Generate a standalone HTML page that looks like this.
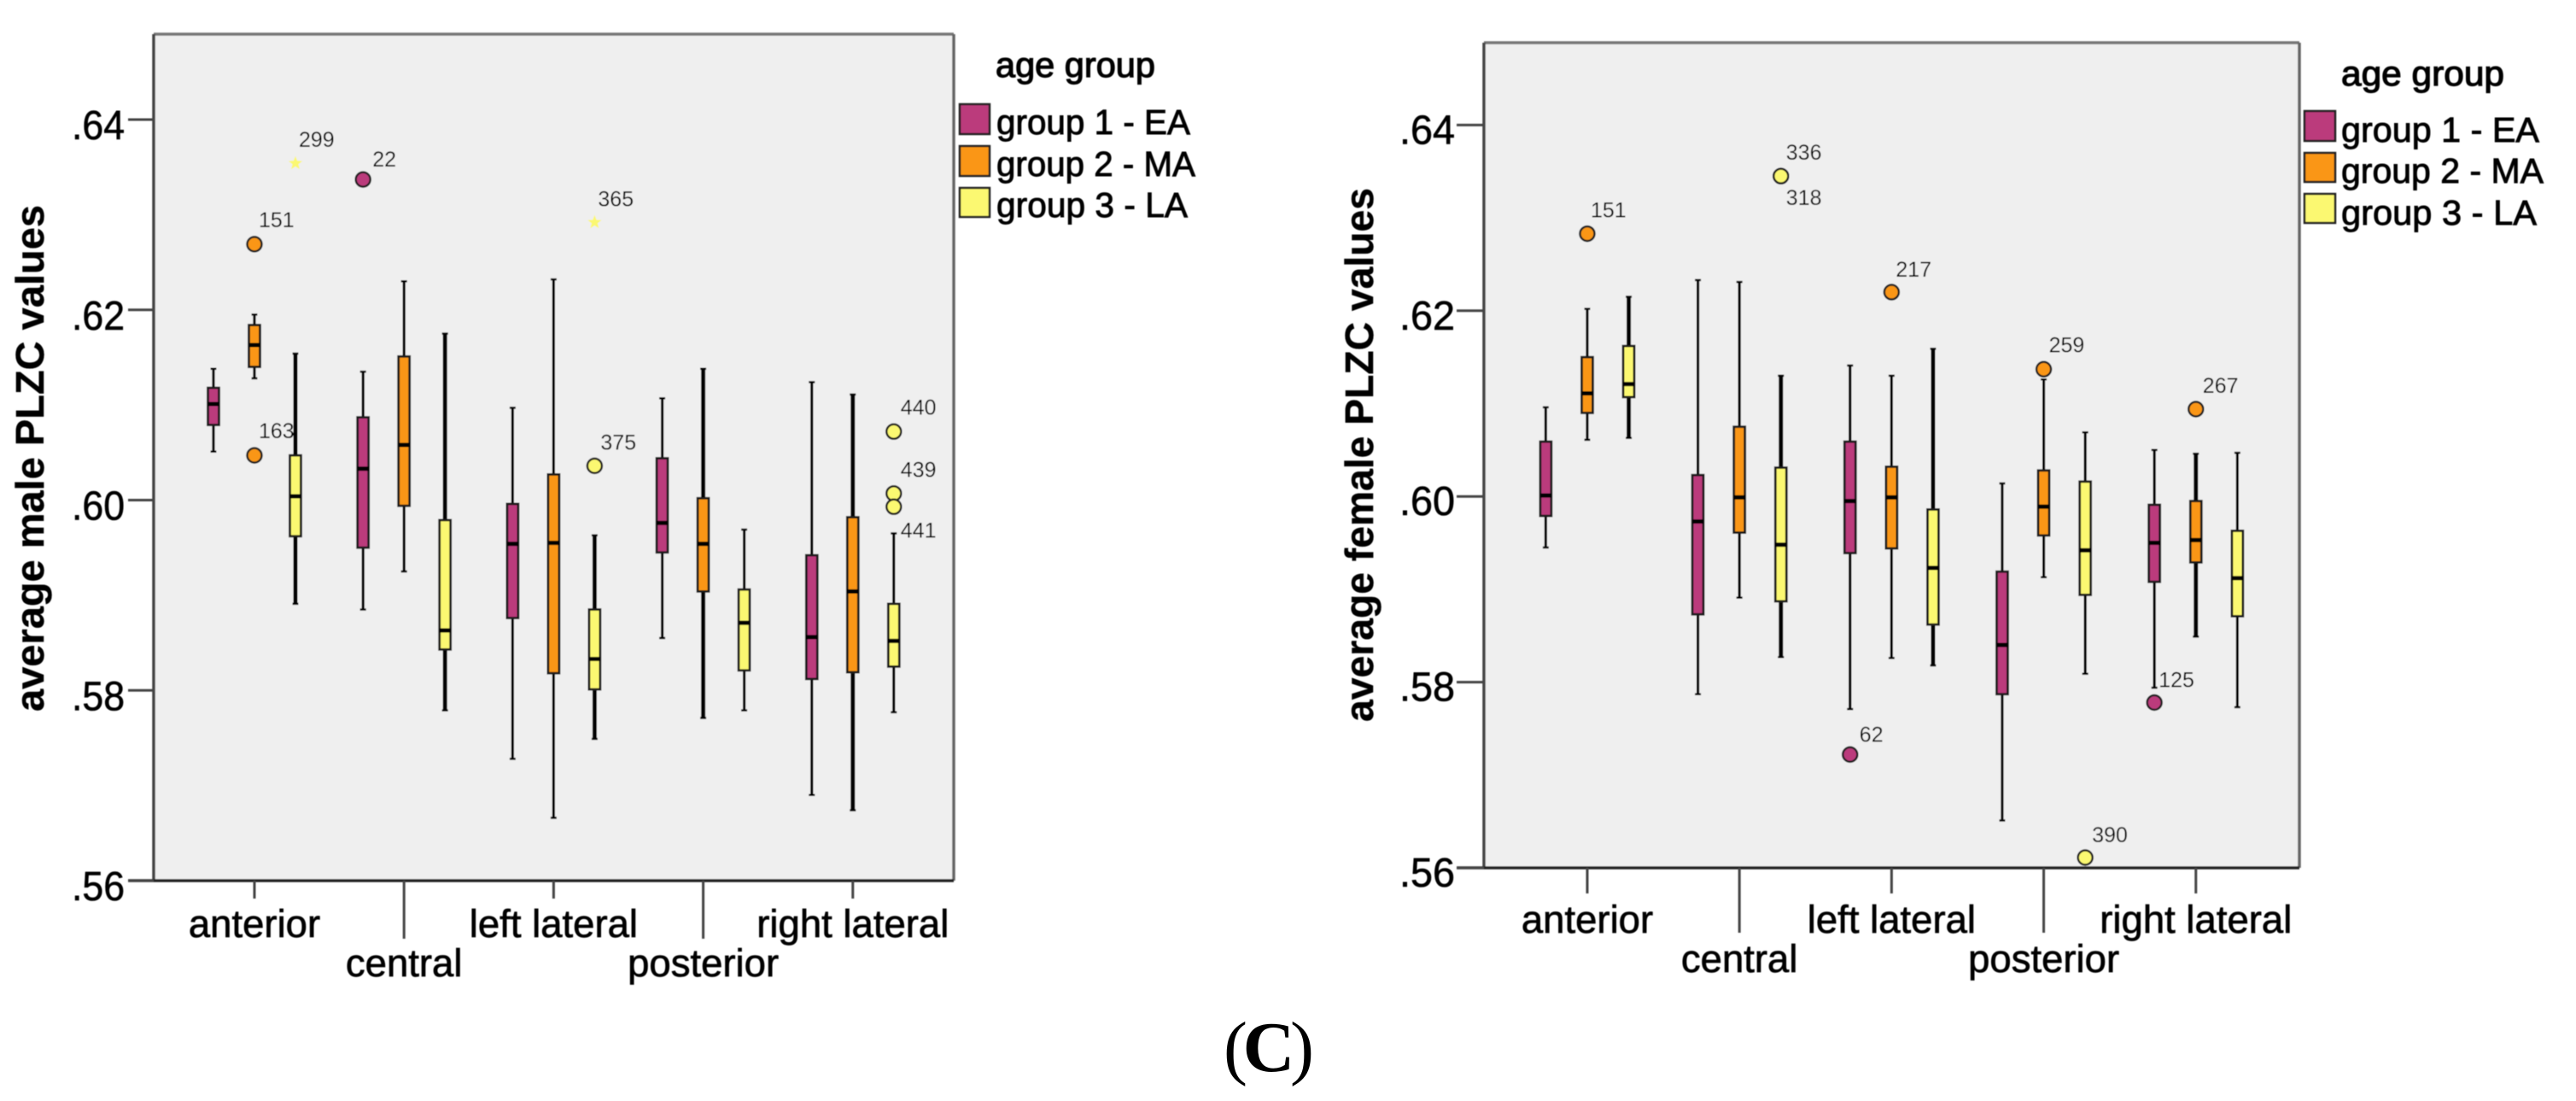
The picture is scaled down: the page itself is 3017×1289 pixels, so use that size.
<!DOCTYPE html>
<html lang="en">
<head>
<meta charset="utf-8">
<title>Average PLZC values by age group</title>
<style>
html,body{margin:0;padding:0;background:#fff;width:3017px;height:1289px;overflow:hidden}
svg{display:block}
text{font-family:"Liberation Sans",Arial,sans-serif;fill:#000}
</style>
</head>
<body>
<svg id="figure" xmlns="http://www.w3.org/2000/svg" width="3017" height="1289" viewBox="0 0 3017 1289">
  <defs>
    <filter id="soften" x="-2%" y="-2%" width="104%" height="104%"><feGaussianBlur stdDeviation="0.6"/></filter>
  </defs>
  <rect x="0" y="0" width="3017" height="1289" fill="#fff"/>
  <g id="male-panel" filter="url(#soften)"></g>
  <g id="female-panel" filter="url(#soften)"></g>

  <g filter="url(#soften)">
    <text x="1166" y="90" font-size="41" stroke="#000" stroke-width="1.2" textLength="187" lengthAdjust="spacingAndGlyphs">age group</text>
    <rect x="1124" y="122" width="35" height="35" fill="#bb3a7c" stroke="#222" stroke-width="2.5"/>
    <text x="1167" y="157" font-size="41" stroke="#000" stroke-width="0.9" textLength="227" lengthAdjust="spacingAndGlyphs">group 1 - EA</text>
    <rect x="1124" y="171" width="35" height="35" fill="#fa9618" stroke="#222" stroke-width="2.5"/>
    <text x="1167" y="206" font-size="41" stroke="#000" stroke-width="0.9" textLength="233" lengthAdjust="spacingAndGlyphs">group 2 - MA</text>
    <rect x="1124" y="220" width="35" height="34" fill="#fbf871" stroke="#222" stroke-width="2.5"/>
    <text x="1167" y="254" font-size="41" stroke="#000" stroke-width="0.9" textLength="224" lengthAdjust="spacingAndGlyphs">group 3 - LA</text>
  </g>

  <g filter="url(#soften)">
    <text x="2742" y="100" font-size="41" stroke="#000" stroke-width="1.2" textLength="191" lengthAdjust="spacingAndGlyphs">age group</text>
    <rect x="2699" y="130" width="36" height="35" fill="#bb3a7c" stroke="#222" stroke-width="2.5"/>
    <text x="2742" y="166" font-size="41" stroke="#000" stroke-width="0.9" textLength="232" lengthAdjust="spacingAndGlyphs">group 1 - EA</text>
    <rect x="2699" y="179" width="36" height="34" fill="#fa9618" stroke="#222" stroke-width="2.5"/>
    <text x="2742" y="214" font-size="41" stroke="#000" stroke-width="0.9" textLength="237" lengthAdjust="spacingAndGlyphs">group 2 - MA</text>
    <rect x="2699" y="227" width="36" height="34" fill="#fbf871" stroke="#222" stroke-width="2.5"/>
    <text x="2742" y="263" font-size="41" stroke="#000" stroke-width="0.9" textLength="229" lengthAdjust="spacingAndGlyphs">group 3 - LA</text>
  </g>

  <text x="1433" y="1254" font-size="84" textLength="106" lengthAdjust="spacing" style="font-family:'Liberation Serif',serif">(<tspan font-weight="bold">C</tspan>)</text>
</svg>

<script>
// Shared categories and tick labels
const categories = ['anterior', 'central', 'left lateral', 'posterior', 'right lateral'];
const groupNames = ['group-1-ea', 'group-2-ma', 'group-3-la'];
const yTicks = [0.56, 0.58, 0.60, 0.62, 0.64];
const yTickLabels = ['.56', '.58', '.60', '.62', '.64'];

// Male panel: five-number summaries, ordered by category then by age group
const maleWhiskerHigh = [.6138,.6195,.6154, .6135,.6230,.6175, .6097,.6232,.5963, .6107,.6138,.5969, .6124,.6111,.5965];
const maleQ3          = [.6118,.6184,.6047, .6087,.6151,.5979, .5996,.6027,.5885, .6044,.6002,.5906, .5942,.5982,.5891];
const maleMedian      = [.6101,.6163,.6004, .6033,.6058,.5863, .5954,.5955,.5833, .5976,.5954,.5871, .5856,.5904,.5852];
const maleQ1          = [.6079,.6140,.5962, .5950,.5994,.5843, .5876,.5818,.5801, .5945,.5904,.5821, .5812,.5819,.5825];
const maleWhiskerLow  = [.6051,.6128,.5891, .5885,.5925,.5779, .5728,.5666,.5749, .5855,.5771,.5779, .5690,.5674,.5777];

// Male panel outliers
const maleOutlierCategory = [0, 0, 0, 1, 2, 2, 4, 4, 4];
const maleOutlierGroup    = [1, 1, 2, 0, 2, 2, 2, 2, 2];
const maleOutlierValue    = [.6269, .6047, .6354, .6337, .6292, .6036, .6072, .6007, .5993];
const maleOutlierId       = ['151', '163', '299', '22', '365', '375', '440', '439', '441'];
const maleOutlierExtreme  = [false, false, true, false, true, false, false, false, false];

// Female panel: five-number summaries
const femaleWhiskerHigh = [.6096,.6202,.6215, .6233,.6231,.6130, .6141,.6130,.6159, .6014,.6126,.6069, .6050,.6046,.6047];
const femaleQ3          = [.6059,.6150,.6162, .6023,.6075,.6031, .6059,.6032,.5986, .5919,.6028,.6016, .5991,.5995,.5963];
const femaleMedian      = [.6001,.6111,.6121, .5973,.5999,.5948, .5995,.5999,.5923, .5840,.5989,.5942, .5950,.5953,.5912];
const femaleQ1          = [.5979,.6090,.6107, .5873,.5961,.5887, .5939,.5944,.5862, .5787,.5958,.5894, .5908,.5929,.5871];
const femaleWhiskerLow  = [.5945,.6061,.6063, .5787,.5891,.5827, .5771,.5826,.5818, .5651,.5913,.5809, .5794,.5849,.5773];

// Female panel outliers
const femaleOutlierCategory = [0, 1, 1, 2, 2, 3, 3, 4, 4];
const femaleOutlierGroup    = [1, 2, 2, 0, 1, 1, 2, 0, 1];
const femaleOutlierValue    = [.6283, .6345, .6345, .5722, .6220, .6137, .5611, .5778, .6094];
const femaleOutlierId       = ['151', '336', '318', '62', '217', '259', '390', '125', '267'];
const femaleOutlierExtreme  = [false, false, false, false, false, false, false, false, false];

const fills = ['#bb3a7c', '#fa9618', '#fbf871'];
const SVGNS = 'http://www.w3.org/2000/svg';

function mk(tag, attrs, parent, text) {
  const n = document.createElementNS(SVGNS, tag);
  for (const k in attrs) n.setAttribute(k, attrs[k]);
  if (text !== undefined) n.textContent = text;
  parent.appendChild(n);
  return n;
}

function starPoints(cx, cy, r) {
  const pts = [];
  for (let i = 0; i < 10; i++) {
    const rad = i % 2 ? r * 0.42 : r;
    const a = -Math.PI / 2 + i * Math.PI / 5;
    pts.push((cx + rad * Math.cos(a)).toFixed(1) + ',' + (cy + rad * Math.sin(a)).toFixed(1));
  }
  return pts.join(' ');
}

function drawPanel(cfg) {
  const root = document.getElementById(cfg.rootId);
  const y = v => cfg.y56 + (v - 0.56) / 0.08 * (cfg.y64 - cfg.y56);
  const x = (c, g) => cfg.x0 + c * cfg.dx + (g - 1) * cfg.gapx;

  const plot = mk('rect', {x: cfg.left, y: cfg.top, width: cfg.right - cfg.left, height: cfg.y56 - cfg.top, fill: '#efefef'}, root);
  
  

  const topEdge = mk('line', {x1: cfg.left, x2: cfg.right, y1: cfg.top, y2: cfg.top, stroke: '#777', 'stroke-width': 3.5}, root);
  
  
  const rightEdge = mk('line', {x1: cfg.right, x2: cfg.right, y1: cfg.top, y2: cfg.y56, stroke: '#666', 'stroke-width': 3.5}, root);
  
  
  const leftAxis = mk('line', {x1: cfg.left, x2: cfg.left, y1: cfg.top, y2: cfg.y56, stroke: '#444', 'stroke-width': 3.5}, root);
  
  
  const bottomAxis = mk('line', {x1: cfg.tickLeft, x2: cfg.right, y1: cfg.y56, y2: cfg.y56, stroke: '#222', 'stroke-width': 3.5}, root);
  
  

  yTicks.forEach((t, i) => {
    const tick = mk('line', {x1: cfg.tickLeft, x2: cfg.left, y1: y(t), y2: y(t), stroke: '#444', 'stroke-width': 3}, root);
    
    
    const lab = mk('text', {x: cfg.tickLabelRight, y: y(t) + cfg.tickLabelDrop, 'font-size': 48, 'text-anchor': 'end', textLength: cfg.tickLabelWidth, lengthAdjust: 'spacingAndGlyphs', stroke: '#000', 'stroke-width': 0.6}, root, yTickLabels[i]);
    
    
  });

  categories.forEach((c, i) => {
    const cx = x(i, 1);
    const low = i % 2 === 1;
    const tick = mk('line', {x1: cx, x2: cx, y1: cfg.y56, y2: low ? cfg.tickLong : cfg.tickShort, stroke: '#444', 'stroke-width': 3}, root);
    
    
    const lab = mk('text', {x: cx, y: low ? cfg.labelY2 : cfg.labelY1, 'font-size': 45.5, 'text-anchor': 'middle', stroke: '#000', 'stroke-width': 0.7}, root, c);
    
    
  });

  const title = mk('text', {transform: 'translate(' + cfg.titleX + ',' + cfg.titleBottom + ') rotate(-90)', 'font-size': 46, 'font-weight': 'bold', textLength: cfg.titleLen, lengthAdjust: 'spacingAndGlyphs', stroke: '#000', 'stroke-width': 0.4}, root, cfg.title);
  
  

  cfg.high.forEach((_, k) => {
    const c = Math.floor(k / 3), g = k % 3, cx = x(c, g);
    const sw = cfg.heavy.includes(k) ? 5 : 3.2;

    const box = mk('g', {}, root);
    
    

    const whisker = mk('line', {x1: cx, x2: cx, y1: y(cfg.high[k]), y2: y(cfg.low[k]), stroke: '#000', 'stroke-width': sw}, box);
    
    
    const capHigh = mk('line', {x1: cx - 3.5, x2: cx + 3.5, y1: y(cfg.high[k]), y2: y(cfg.high[k]), stroke: '#000', 'stroke-width': 2.5}, box);
    
    
    const capLow = mk('line', {x1: cx - 3.5, x2: cx + 3.5, y1: y(cfg.low[k]), y2: y(cfg.low[k]), stroke: '#000', 'stroke-width': 2.5}, box);
    
    
    const rect = mk('rect', {x: cx - 6.5, y: y(cfg.q3[k]), width: 13, height: y(cfg.q1[k]) - y(cfg.q3[k]), fill: fills[g], stroke: '#1a1a1a', 'stroke-width': 2.8}, box);
    
    
    const med = mk('line', {x1: cx - 6.5, x2: cx + 6.5, y1: y(cfg.median[k]), y2: y(cfg.median[k]), stroke: '#000', 'stroke-width': 5}, box);
    
    
  });

  cfg.outValue.forEach((v, i) => {
    const g = cfg.outGroup[i], cx = x(cfg.outCat[i], g), cy = y(v);
    if (cfg.outExtreme[i]) {
      const star = mk('polygon', {points: starPoints(cx, cy, 8.5), fill: fills[g]}, root);
      
      
    } else {
      const dot = mk('circle', {cx: cx, cy: cy, r: 8.5, fill: fills[g], stroke: '#222', 'stroke-width': 2.5}, root);
      
      
    }
    const off = cfg.labelOffset[cfg.outId[i]];
    const lab = mk('text', {x: cx + off[0], y: cy + off[1], 'font-size': 25, fill: '#222'}, root, cfg.outId[i]);
    
    
  });
}

drawPanel({
  rootId: 'male-panel', title: 'average male PLZC values',
  left: 180, right: 1117, top: 40, y56: 1031, y64: 140,
  x0: 298, dx: 175.2, gapx: 48,
  tickLeft: 150, tickLabelRight: 146, tickLabelWidth: 62, tickLabelDrop: 23,
  tickShort: 1052, tickLong: 1099, labelY1: 1097, labelY2: 1143,
  titleX: 51, titleBottom: 833, titleLen: 593,
  high: maleWhiskerHigh, q3: maleQ3, median: maleMedian, q1: maleQ1, low: maleWhiskerLow,
  heavy: [2, 5, 8, 10, 13],
  outCat: maleOutlierCategory, outGroup: maleOutlierGroup, outValue: maleOutlierValue, outId: maleOutlierId, outExtreme: maleOutlierExtreme,
  labelOffset: {'151': [5, -20], '163': [5, -20], '299': [4, -19], '22': [11, -15], '365': [4, -19], '375': [7, -19], '440': [8, -20], '439': [8, -19], '441': [8, 36]}
});

drawPanel({
  rootId: 'female-panel', title: 'average female PLZC values',
  left: 1738, right: 2693, top: 50, y56: 1016, y64: 146.4,
  x0: 1859, dx: 178.2, gapx: 48.6,
  tickLeft: 1706, tickLabelRight: 1704, tickLabelWidth: 65, tickLabelDrop: 22,
  tickShort: 1046, tickLong: 1092, labelY1: 1092, labelY2: 1138,
  titleX: 1608, titleBottom: 845, titleLen: 625,
  high: femaleWhiskerHigh, q3: femaleQ3, median: femaleMedian, q1: femaleQ1, low: femaleWhiskerLow,
  heavy: [2, 5, 8, 13],
  outCat: femaleOutlierCategory, outGroup: femaleOutlierGroup, outValue: femaleOutlierValue, outId: femaleOutlierId, outExtreme: femaleOutlierExtreme,
  labelOffset: {'151': [4, -19], '336': [6, -19], '318': [6, 34], '62': [11, -15], '217': [5, -18], '259': [6, -20], '390': [8, -18], '125': [5, -18], '267': [8, -19]}
});
</script>
</body>
</html>
